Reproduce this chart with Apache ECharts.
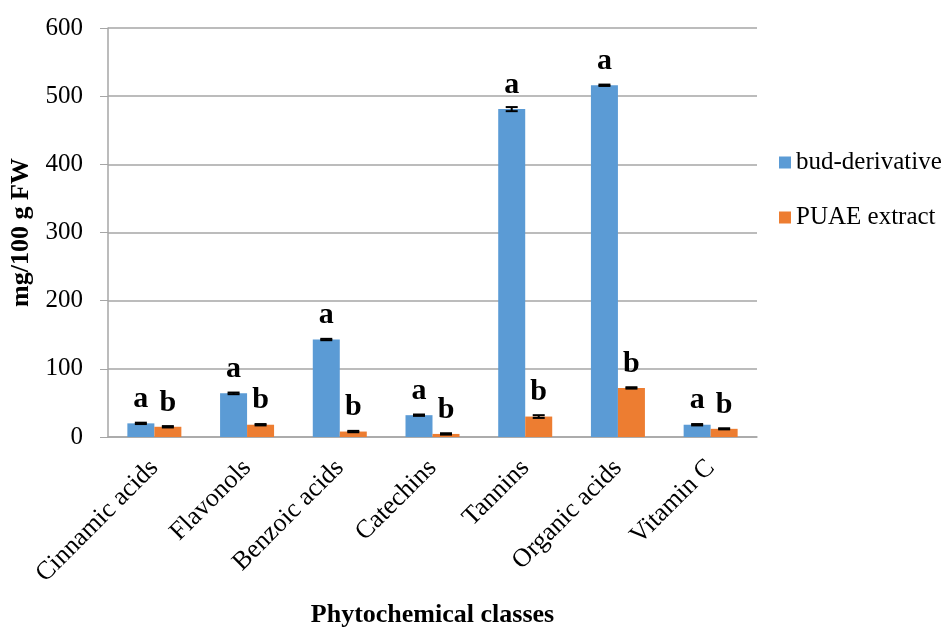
<!DOCTYPE html>
<html lang="en">
<head>
    <meta charset="UTF-8">
    <title>Phytochemical classes</title>
    <script src="https://cdn.jsdelivr.net/npm/echarts@6/dist/echarts.min.js"></script>
    <style>
        html, body { margin: 0; padding: 0; background: #fff; }
        #main { width: 949px; height: 627px; }
    </style>
</head>
<body>
    <div id="main"></div>
    <script>
        // data
        var categories = ['Cinnamic acids', 'Flavonols', 'Benzoic acids', 'Catechins', 'Tannins', 'Organic acids', 'Vitamin C'];
        var budValues = [20, 64, 143, 32, 481, 516, 18];
        var budErr = [1, 1.2, 1, 1, 3, 1, 1];
        var puaeValues = [15, 18, 8, 4.5, 30, 72, 12];
        var puaeErr = [1, 1, 1, 1, 2, 1, 0.8];
        var budLetters = ['a', 'a', 'a', 'a', 'a', 'a', 'a'];
        var puaeLetters = ['b', 'b', 'b', 'b', 'b', 'b', 'b'];
        var yTicks = [0, 100, 200, 300, 400, 500, 600];

        var font = '"Liberation Serif", "Times New Roman", serif';
        var barW = 27;

        function errorSeries(values, errs, offset) {
            return {
                type: 'custom',
                z: 5,
                silent: true,
                data: values.map(function (v, i) { return [i, v - errs[i], v + errs[i]]; }),
                renderItem: function (params, api) {
                    var lo = api.coord([api.value(0), api.value(1)]);
                    var hi = api.coord([api.value(0), api.value(2)]);
                    var x = lo[0] + offset;
                    var half = 6;
                    var st = { stroke: '#000', lineWidth: 2 };
                    return {
                        type: 'group',
                        children: [
                            { type: 'line', shape: { x1: x, y1: lo[1], x2: x, y2: hi[1] }, style: st },
                            { type: 'line', shape: { x1: x - half, y1: hi[1], x2: x + half, y2: hi[1] }, style: st },
                            { type: 'line', shape: { x1: x - half, y1: lo[1], x2: x + half, y2: lo[1] }, style: st }
                        ]
                    };
                }
            };
        }

        function letterLabel(letters) {
            return {
                show: true,
                position: 'top',
                distance: 9,
                fontFamily: font,
                fontWeight: 'bold',
                fontSize: 30,
                color: '#000',
                formatter: function (p) { return letters[p.dataIndex]; }
            };
        }

        var chart = echarts.init(document.getElementById('main'));
        chart.setOption({
            animation: false,
            textStyle: { fontFamily: font },
            grid: { left: 108, right: 192, top: 28, bottom: 190, outerBoundsMode: 'none', containLabel: false },
            legend: {
                orient: 'vertical',
                left: 774,
                top: 145,
                itemWidth: 12,
                itemHeight: 12,
                itemGap: 30,
                icon: 'rect',
                data: ['bud-derivative', 'PUAE extract'],
                textStyle: { fontFamily: font, fontSize: 25, color: '#000' }
            },
            xAxis: {
                type: 'category',
                data: categories,
                name: 'Phytochemical classes',
                nameLocation: 'middle',
                nameGap: 165,
                nameTextStyle: { fontFamily: font, fontWeight: 'bold', fontSize: 26, color: '#000' },
                axisLine: { lineStyle: { color: '#a6a6a6', width: 1.5 } },
                axisTick: { show: false },
                axisLabel: { rotate: 45, margin: 27, fontFamily: font, fontSize: 26, color: '#000', interval: 0 }
            },
            yAxis: {
                type: 'value',
                min: yTicks[0],
                max: yTicks[yTicks.length - 1],
                interval: 100,
                name: 'mg/100 g FW',
                nameLocation: 'middle',
                nameGap: 72,
                nameTextStyle: { fontFamily: font, fontWeight: 'bold', fontSize: 26, color: '#000' },
                axisLine: { show: true, lineStyle: { color: '#a6a6a6', width: 1.5 } },
                axisTick: { show: true, length: 8, inside: false, lineStyle: { color: '#a6a6a6' } },
                axisLabel: { margin: 25, fontFamily: font, fontSize: 25, color: '#000' },
                splitLine: { lineStyle: { color: '#a6a6a6', width: 1.5 } }
            },
            series: [
                {
                    name: 'bud-derivative',
                    type: 'bar',
                    data: budValues,
                    barWidth: barW,
                    barGap: '0%',
                    itemStyle: { color: '#5b9bd5' },
                    label: letterLabel(budLetters)
                },
                {
                    name: 'PUAE extract',
                    type: 'bar',
                    data: puaeValues,
                    barWidth: barW,
                    barGap: '0%',
                    itemStyle: { color: '#ed7d31' },
                    label: letterLabel(puaeLetters)
                },
                errorSeries(budValues, budErr, -barW / 2),
                errorSeries(puaeValues, puaeErr, barW / 2)
            ]
        });
    </script>
</body>
</html>
